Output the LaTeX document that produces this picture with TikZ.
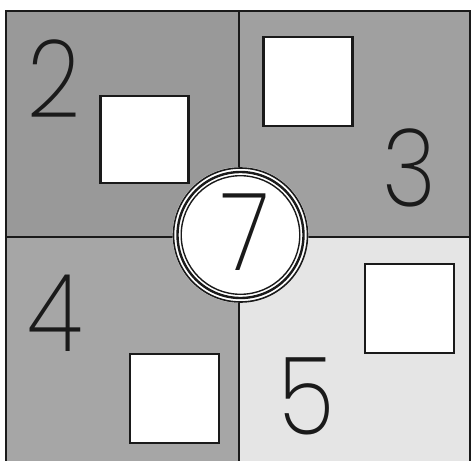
\documentclass[tikz,border=0pt]{standalone}
\usepackage{fontspec}
\newfontfamily\digfont{Poppins ExtraLight}[FakeStretch=0.86]
\definecolor{qTL}{HTML}{999999}
\definecolor{qTR}{HTML}{A0A0A0}
\definecolor{qBL}{HTML}{A6A6A6}
\definecolor{qBR}{HTML}{E5E5E5}
\definecolor{ink}{HTML}{1A1A1A}
\tikzset{
  box/.style={draw=ink, line width=2.2pt, fill=white},
  quad/.style={draw=ink, line width=2pt},
  digit/.style={inner sep=0pt, text=ink, font=\digfont\fontsize{108}{108}\selectfont},
}
\begin{document}
\begin{tikzpicture}[x=1pt,y=-1pt]
\useasboundingbox (0,0) rectangle (472,461);
% quadrants
\fill[qTL] (6,11) rectangle (239,237);
\fill[qTR] (239,11) rectangle (470,237);
\fill[qBL] (6,237) rectangle (239,468);
\fill[qBR] (239,237) rectangle (470,468);
\draw[quad] (6,468) -- (6,11) -- (470,11) -- (470,468);
\draw[quad] (239,11) -- (239,468);
\draw[quad] (6,237) -- (470,237);
% white squares
\node[box, minimum width=88pt, minimum height=87pt, inner sep=0pt] (s2) at (144.5,139.5) {};
\node[box, minimum width=89pt, minimum height=89pt, inner sep=0pt] (s3) at (308,81.5) {};
\node[box, minimum width=89pt, minimum height=89pt, inner sep=0pt] (s4) at (174.5,398.5) {};
\node[box, minimum width=89pt, minimum height=89pt, inner sep=0pt] (s5) at (409.5,308.5) {};
% digits
\node[digit] (d2) at (54,79) {2};
\node[digit] (d3) at (409,168) {3};
\node[digit] (d4) at (55,313) {4};
\node[digit] (d5) at (307,396) {5};
% centre circle
\coordinate (c) at (240.5,235);
\fill[white] (c) circle (68);
\draw[ink, line width=1.6pt] (c) circle (67);
\draw[ink, line width=2.4pt] (c) circle (63);
\draw[ink, line width=1.4pt] (c) circle (59.3);
\node[digit] (d7) at (246,232) {7};
\end{tikzpicture}
\end{document}
